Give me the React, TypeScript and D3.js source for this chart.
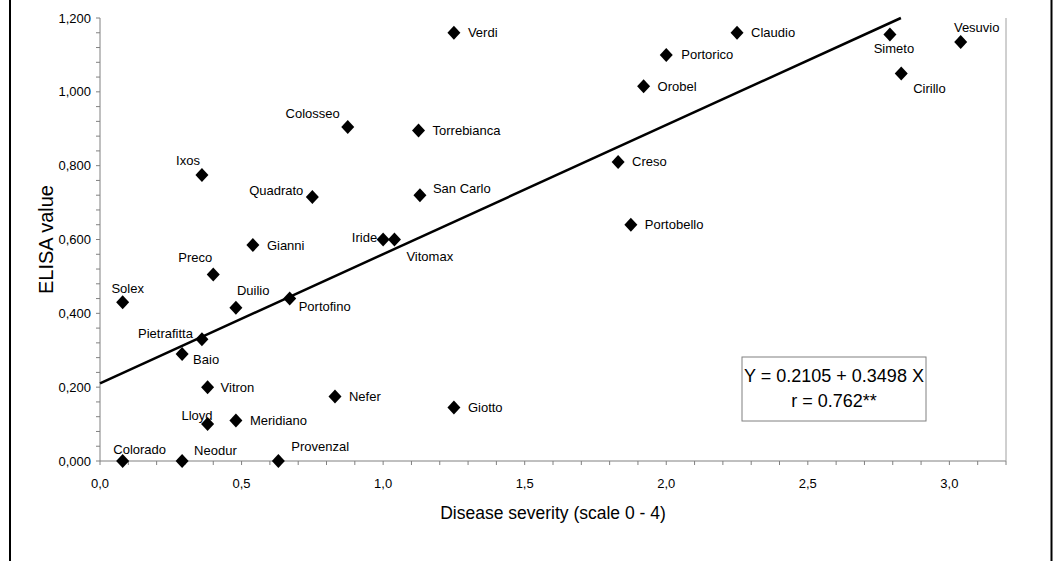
import React from "react";
import * as d3 from "d3";

const cultivars = ["Colorado","Neodur","Provenzal","Lloyd","Meridiano","Vitron","Nefer","Giotto","Baio","Pietrafitta","Solex","Duilio","Portofino","Preco","Gianni","Iride","Vitomax","Quadrato","San Carlo","Ixos","Colosseo","Torrebianca","Verdi","Creso","Portobello","Orobel","Portorico","Claudio","Simeto","Cirillo","Vesuvio"];
const severity = [0.08,0.29,0.63,0.38,0.48,0.38,0.83,1.25,0.29,0.36,0.08,0.48,0.67,0.40,0.54,1.00,1.04,0.75,1.13,0.36,0.875,1.125,1.25,1.83,1.875,1.92,2.00,2.25,2.79,2.83,3.04];
const elisa = [0,0,0,0.10,0.11,0.20,0.175,0.145,0.29,0.33,0.43,0.415,0.44,0.505,0.585,0.60,0.60,0.715,0.72,0.775,0.905,0.895,1.16,0.81,0.64,1.015,1.10,1.16,1.155,1.05,1.135];
const intercept = 0.2105;
const slope = 0.3498;
const equationLines = ["Y = 0.2105 + 0.3498 X", "r = 0.762**"];
const xTickValues = [0, 0.5, 1.0, 1.5, 2.0, 2.5, 3.0];
const yTickValues = [0, 0.2, 0.4, 0.6, 0.8, 1.0, 1.2];

// label layout: [dx, dy(center), anchor]
const labelLayout: Record<string, [number, number, string]> = {
  Colorado: [17, -12, "middle"],
  Neodur: [12, -11, "start"],
  Provenzal: [13, -15, "start"],
  Lloyd: [5, -9, "end"],
  Meridiano: [14, 0, "start"],
  Vitron: [13, 0, "start"],
  Nefer: [14, 0, "start"],
  Giotto: [14, 0, "start"],
  Baio: [11, 6, "start"],
  Pietrafitta: [-9, -6, "end"],
  Solex: [5, -14, "middle"],
  Duilio: [1, -17, "start"],
  Portofino: [9, 8, "start"],
  Preco: [-1, -17, "end"],
  Gianni: [14, 0, "start"],
  Iride: [-6, -2, "end"],
  Vitomax: [12, 17, "start"],
  Quadrato: [-9, -7, "end"],
  "San Carlo": [13, -7, "start"],
  Ixos: [-2, -14, "end"],
  Colosseo: [-8, -13, "end"],
  Torrebianca: [14, 0, "start"],
  Verdi: [14, 0, "start"],
  Creso: [14, 0, "start"],
  Portobello: [14, 0, "start"],
  Orobel: [14, 0, "start"],
  Portorico: [15, 0, "start"],
  Claudio: [14, 0, "start"],
  Simeto: [4, 14, "middle"],
  Cirillo: [12, 15, "start"],
  Vesuvio: [16, -14, "middle"],
};

const W = 1054, H = 561;
const FONT = "'Liberation Sans', Arial, sans-serif";

export default function App() {
  const x = d3.scaleLinear().domain([0, 3.2]).range([100, 1006]);
  const y = d3.scaleLinear().domain([0, 1.2]).range([461, 18]);
  const xMinor = d3.range(0, 3.2001, 0.1);
  const yMinor = d3.range(0, 1.2001, 0.04);
  const xEnd = (1.2 - intercept) / slope;
  const line = d3.line<number>().x((d) => x(d)).y((d) => y(intercept + slope * d));
  const fmtX = (v: number) => v.toFixed(1).replace(".", ",");
  const fmtY = (v: number) => v.toFixed(3).replace(".", ",");
  const diamond = "M0,-7L6.5,0L0,7L-6.5,0Z";
  const boxX = 742, boxY = 357, boxW = 184, boxH = 64;
  return (
    <svg width={W} height={H} style={{ position: "absolute", left: 0, top: 0, background: "#fff" }} fontFamily={FONT}>
      <rect x={0} y={0} width={W} height={H} fill="#fff" />
      <line x1={10} y1={0} x2={10} y2={H} stroke="#000" strokeWidth={2} />
      <line x1={1051.5} y1={0} x2={1051.5} y2={H} stroke="#000" strokeWidth={2} />
      {/* axes */}
      <line x1={x(0)} y1={y(0)} x2={x(3.2)} y2={y(0)} stroke="#808080" strokeWidth={1} />
      <line x1={x(0)} y1={y(0)} x2={x(0)} y2={y(1.2)} stroke="#808080" strokeWidth={1} />
      <line x1={x(3.2)} y1={y(0)} x2={x(3.2)} y2={y(1.2)} stroke="#a0a0a0" strokeWidth={1} />
      {xMinor.map((v, i) => (
        <line key={"xt" + i} x1={x(v)} x2={x(v)} y1={y(0)} y2={y(0) + 4} stroke="#808080" />
      ))}
      {yMinor.map((v, i) => (
        <line key={"yt" + i} x1={x(0) - 4} x2={x(0)} y1={y(v)} y2={y(v)} stroke="#808080" />
      ))}
      {xTickValues.map((v) => (
        <text key={"xl" + v} x={x(v)} y={488} textAnchor="middle" fontSize={13} fill="#000">{fmtX(v)}</text>
      ))}
      {yTickValues.map((v) => (
        <text key={"yl" + v} x={91} y={y(v) + 4.5} textAnchor="end" fontSize={13} fill="#000">{fmtY(v)}</text>
      ))}
      <text x={553} y={519} textAnchor="middle" fontSize={17.5} fill="#000">Disease severity (scale 0 - 4)</text>
      <text transform={`translate(53,${(y(0) + y(1.2)) / 2}) rotate(-90)`} textAnchor="middle" fontSize={20} fill="#000">ELISA value</text>
      {/* regression line */}
      <path d={line([0, xEnd]) || ""} stroke="#000" strokeWidth={2.5} fill="none" />
      {/* points */}
      {cultivars.map((name, i) => (
        <path key={"p" + name} d={diamond} transform={`translate(${x(severity[i])},${y(elisa[i])})`} fill="#000" />
      ))}
      {cultivars.map((name, i) => {
        const [dx, dy, anchor] = labelLayout[name] || [14, 0, "start"];
        return (
          <text key={"t" + name} x={x(severity[i]) + dx} y={y(elisa[i]) + dy + 4.5} textAnchor={anchor as any} fontSize={13} fill="#000">{name}</text>
        );
      })}
      {/* equation box */}
      <rect x={boxX} y={boxY} width={boxW} height={boxH} fill="#fff" stroke="#808080" strokeWidth={1} />
      <text x={boxX + boxW / 2} y={boxY + 25} textAnchor="middle" fontSize={18} fill="#000">{equationLines[0]}</text>
      <text x={boxX + boxW / 2} y={boxY + 50} textAnchor="middle" fontSize={18} fill="#000">{equationLines[1]}</text>
    </svg>
  );
}
